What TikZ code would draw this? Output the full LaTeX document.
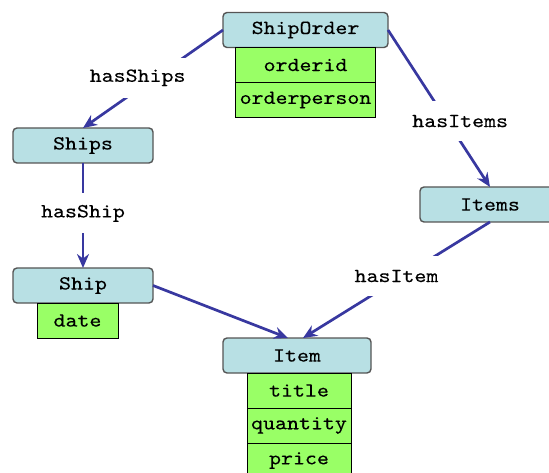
\documentclass[tikz,border=0pt]{standalone}
\usepackage{fontspec}
\usepackage{tikz}
\usetikzlibrary{arrows.meta,positioning}
\newfontfamily\diagfont[FakeStretch=1.14,FakeBold=0.3]{lmmono10-regular.otf}
\definecolor{headcol}{RGB}{184,224,228}
\definecolor{attrcol}{RGB}{153,255,102}
\definecolor{linkcol}{RGB}{56,56,160}
\definecolor{framecol}{RGB}{85,85,85}
\tikzset{
  head/.style ={rectangle, rounded corners=4pt, draw=framecol, line width=1.4pt,
                fill=headcol, minimum height=35pt, minimum width=140pt,
                inner sep=0pt, outer sep=0pt, font=\diagfont\fontsize{20}{20}\selectfont},
  attr/.style ={rectangle, draw=black, line width=1pt, fill=attrcol,
                minimum height=35pt, inner sep=0pt, outer sep=0pt,
                font=\diagfont\fontsize{20}{20}\selectfont},
  link/.style ={-{Stealth[length=14pt,width=12pt]}, line width=2.7pt, draw=linkcol},
  lbl/.style  ={fill=white, minimum height=40pt, inner xsep=2pt, inner ysep=0pt,
                font=\diagfont\fontsize{20}{20}\selectfont},
}

\begin{document}
\begin{tikzpicture}[x=1pt,y=-1pt]
    \useasboundingbox (0,0) rectangle (549,473);

    % classes
    \node[head, minimum width=165pt] (shiporder) at (305.5,30) {ShipOrder};
    \node[attr, minimum width=140pt, below=0pt of shiporder] (orderid) {orderid};
    \node[attr, minimum width=140pt, below=0pt of orderid] (orderperson) {orderperson};

    \node[head] (ships) at (83,145.5) {Ships};
    \node[head] (items) at (490,204.5) {Items};

    \node[head] (ship) at (83,285.5) {Ship};
    \node[attr, minimum width=81pt, below=0pt of ship, xshift=-5.5pt] (date) {date};

    \node[head, minimum width=148pt] (item) at (297,355.5) {Item};
    \node[attr, minimum width=104pt, below=0pt of item, xshift=2pt] (title) {title};
    \node[attr, minimum width=104pt, below=0pt of title] (quantity) {quantity};
    \node[attr, minimum width=104pt, below=0pt of quantity] (price) {price};

    % relations
    \draw[link] (shiporder.west) -- (ships.north)
       node[lbl, pos=0.61, yshift=12pt] {hasShips};
    \draw[link] (shiporder.east) -- (items.north)
       node[lbl, pos=0.58, xshift=13pt] {hasItems};
    \draw[link] (ships.south) -- (ship.north)
       node[lbl, pos=0.48] {hasShip};
    \draw[link] (items.south) -- ([xshift=6pt]item.north)
       node[lbl, pos=0.5, yshift=4pt] {hasItem};
    \draw[link] (ship.east) -- ([xshift=-9pt]item.north);
\end{tikzpicture}
\end{document}
